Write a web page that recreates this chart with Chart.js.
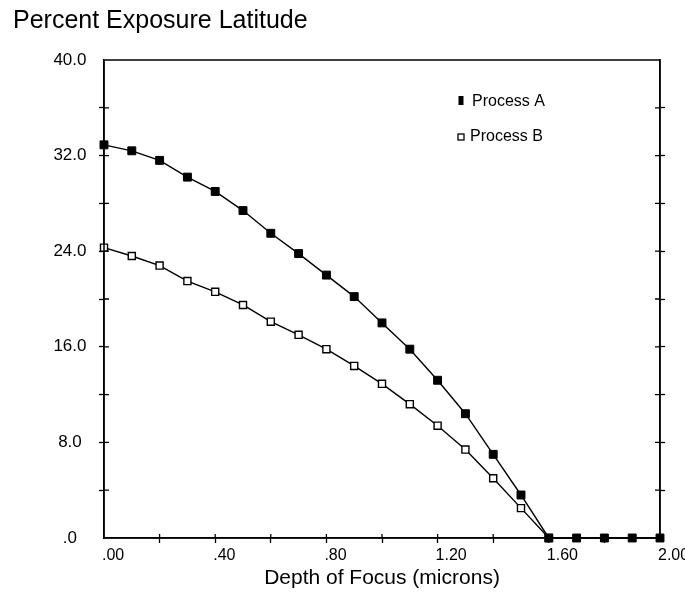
<!DOCTYPE html>
<html>
<head>
<meta charset="utf-8">
<title>Percent Exposure Latitude</title>
<script src="https://cdn.jsdelivr.net/npm/chart.js@4/dist/chart.umd.min.js"></script>
<style>
  html, body { margin: 0; padding: 0; background: #fff; }
  #wrap { width: 685px; height: 592px; position: relative; }
</style>
</head>
<body>
<div id="wrap"><canvas id="latitud"></canvas></div>
<script>
// valores
var depthOfFocus = [0.0, 0.1, 0.2, 0.3, 0.4, 0.5, 0.6, 0.7, 0.8, 0.9, 1.0,
                    1.1, 1.2, 1.3, 1.4, 1.5, 1.6, 1.7, 1.8, 1.9, 2.0];
var processA = [32.9, 32.4, 31.6, 30.2, 29.0, 27.4, 25.5, 23.8, 22.0, 20.2, 18.0,
                15.8, 13.2, 10.4, 7.0, 3.6, 0.0, 0.0, 0.0, 0.0, 0.0];
var processB = [24.3, 23.6, 22.8, 21.5, 20.6, 19.5, 18.1, 17.0, 15.8, 14.4, 12.9,
                11.2, 9.4, 7.4, 5.0, 2.5, 0.0];
var xTicks = [0.0, 0.4, 0.8, 1.2, 1.6, 2.0];   // con etiqueta
var yTicks = [0, 8, 16, 24, 32, 40];           // con etiqueta

var fontName = "'Liberation Sans', Arial, Helvetica, sans-serif";

function toPoints(ys) {
    return ys.map(function (y, i) { return { x: depthOfFocus[i], y: y }; });
}

function xLabel(v) {
    var n = Math.round(v * 100);
    if (xTicks.indexOf(n / 100) < 0) return '';
    if (n < 100) return '.' + (n < 10 ? '0' + n : n);
    return (n / 100).toFixed(2);
}

function yLabel(v) {
    if (yTicks.indexOf(v) < 0) return '';
    return v === 0 ? '.0' : v.toFixed(1);
}

// marco + mitad interior de las marcas (cruces)
var frameTicks = {
    id: 'frameTicks',
    afterDatasetsDraw: function (chart) {
        var ctx = chart.ctx, a = chart.chartArea;
        ctx.save();
        ctx.strokeStyle = '#000';
        ctx.lineWidth = 1.5;
        ctx.strokeRect(a.left, a.top, a.right - a.left, a.bottom - a.top);
        ctx.lineWidth = 1.3;
        ctx.beginPath();
        chart.scales.y.ticks.forEach(function (t) {
            if (t.value <= 0 || t.value >= 40) return;
            var py = chart.scales.y.getPixelForValue(t.value);
            ctx.moveTo(a.left, py); ctx.lineTo(a.left + 5, py);
            ctx.moveTo(a.right - 5, py); ctx.lineTo(a.right, py);
        });
        chart.scales.x.ticks.forEach(function (t) {
            if (t.value <= 0 || t.value >= 2) return;
            var px = chart.scales.x.getPixelForValue(t.value);
            ctx.moveTo(px, a.bottom - 4); ctx.lineTo(px, a.bottom);
        });
        ctx.stroke();
        ctx.restore();
    }
};

// leyenda dentro del area
var innerLegend = {
    id: 'innerLegend',
    afterDraw: function (chart) {
        var ctx = chart.ctx, a = chart.chartArea;
        var lx = a.left + 357, ly = a.top + 41;
        ctx.save();
        ctx.font = '16px ' + fontName;
        ctx.fillStyle = '#000';
        ctx.textBaseline = 'middle';
        ctx.textAlign = 'left';
        // Process A
        ctx.fillRect(lx - 2.5, ly - 5, 5, 9);
        ctx.fillText(chart.data.datasets[0].label, lx + 11, ly + 1);
        // Process B
        ctx.strokeStyle = '#000';
        ctx.lineWidth = 1.3;
        ctx.strokeRect(lx - 3, ly + 33, 6, 6);
        ctx.fillText(chart.data.datasets[1].label, lx + 9, ly + 36);
        ctx.restore();
    }
};

function tickColor(c) {
    var v = c.tick ? c.tick.value : null;
    return (v === 0 || v === 40 || v === 2) ? 'rgba(0,0,0,0)' : '#000';
}

var latitudChart = new Chart(document.getElementById('latitud'), {
    type: 'line',
    data: {
        datasets: [{
            label: 'Process A',
            data: toPoints(processA),
            borderColor: '#000',
            borderWidth: 1.4,
            pointStyle: 'rect',
            pointRadius: 5.6,
            pointBackgroundColor: '#000',
            pointBorderColor: '#000',
            pointBorderWidth: 1,
            tension: 0,
            clip: false
        }, {
            label: 'Process B',
            data: toPoints(processB),
            borderColor: '#000',
            borderWidth: 1.4,
            pointStyle: 'rect',
            pointRadius: 5,
            pointBackgroundColor: '#fff',
            pointBorderColor: '#000',
            pointBorderWidth: 1.4,
            tension: 0,
            clip: false
        }]
    },
    options: {
        responsive: true,
        maintainAspectRatio: false,
        animation: false,
        events: [],
        layout: { padding: { left: 13, top: 0, right: 0, bottom: 0 } },
        plugins: {
            legend: { display: false },
            tooltip: { enabled: false },
            title: {
                display: true,
                text: 'Percent Exposure Latitude',
                align: 'start',
                color: '#000',
                font: { family: fontName, size: 25, weight: 'normal' },
                padding: { top: 6, bottom: 24 }
            }
        },
        scales: {
            x: {
                type: 'linear',
                min: 0,
                max: 2,
                ticks: {
                    stepSize: 0.2,
                    autoSkip: false,
                    maxRotation: 0,
                    align: 'start',
                    labelOffset: -2,
                    padding: 3,
                    color: '#000',
                    font: { family: fontName, size: 16 },
                    callback: xLabel
                },
                grid: { drawOnChartArea: false, tickLength: 5, tickWidth: 1.3, color: tickColor },
                border: { color: '#000', width: 1.5 },
                title: {
                    display: true,
                    text: 'Depth of Focus (microns)',
                    color: '#000',
                    font: { family: fontName, size: 21 },
                    padding: { top: 0, bottom: 1 }
                },
                afterFit: function (scale) {
                    scale.height = 54;
                    scale.paddingLeft = 0;
                    scale.paddingRight = 0;
                }
            },
            y: {
                min: 0,
                max: 40,
                ticks: {
                    stepSize: 4,
                    autoSkip: false,
                    crossAlign: 'center',
                    padding: 12.5,
                    color: '#000',
                    font: { family: fontName, size: 17 },
                    callback: yLabel
                },
                grid: { drawOnChartArea: false, tickLength: 5, tickWidth: 1.3, color: tickColor },
                border: { color: '#000', width: 1.5 },
                afterFit: function (scale) { scale.width = 91; }
            },
            y2: {
                position: 'right',
                min: 0,
                max: 40,
                ticks: { stepSize: 4, display: false },
                grid: { drawOnChartArea: false, tickLength: 5, tickWidth: 1.3, color: tickColor },
                border: { color: '#000', width: 1.5 },
                afterFit: function (scale) { scale.width = 25; }
            }
        }
    },
    plugins: [frameTicks, innerLegend]
});
</script>
</body>
</html>
